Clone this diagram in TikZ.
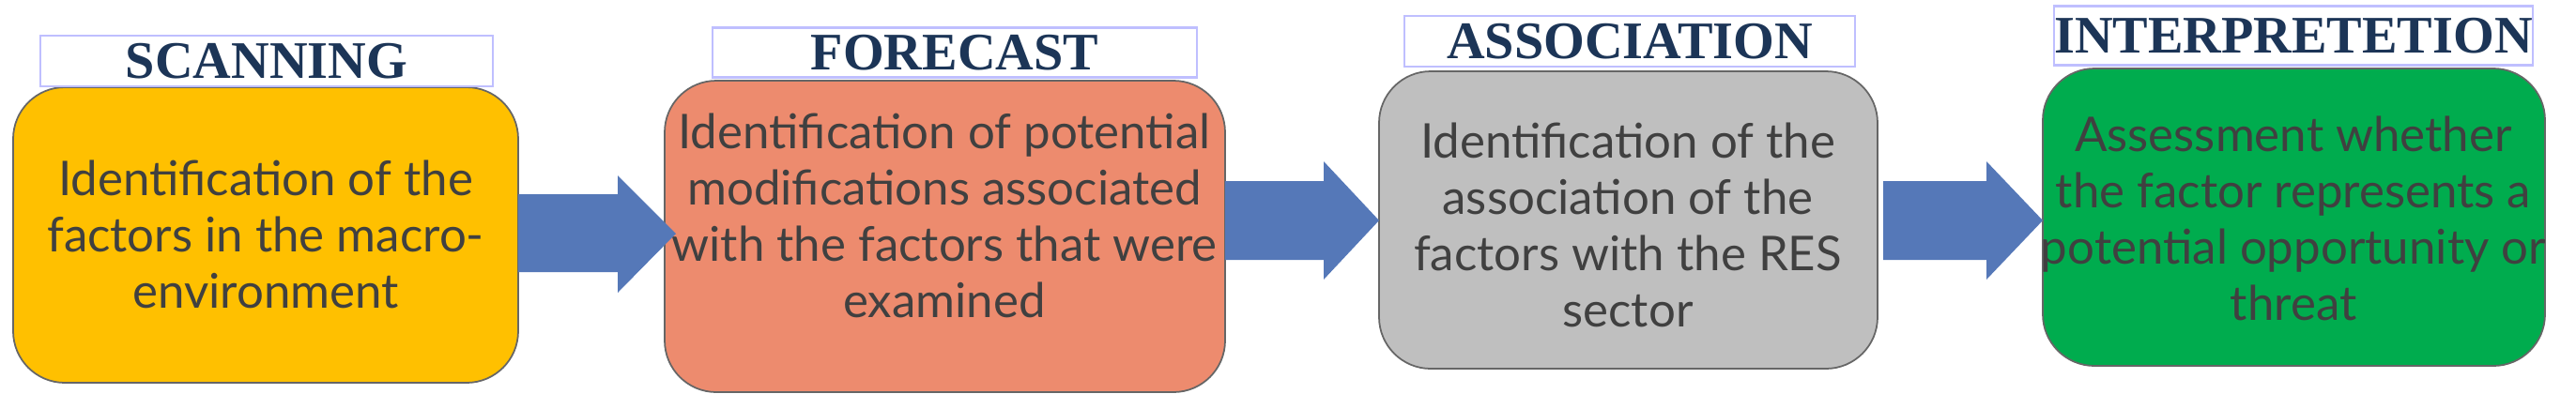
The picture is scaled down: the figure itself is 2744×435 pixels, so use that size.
\documentclass[tikz,border=0pt]{standalone}
\usepackage{fontspec}
\setmainfont{Lato}
\newfontfamily\ttl{Liberation Serif}
\usetikzlibrary{shapes.arrows}
\definecolor{cy}{HTML}{FFC000}
\definecolor{co}{HTML}{ED8B6E}
\definecolor{cg}{HTML}{BFBFBF}
\definecolor{cgr}{HTML}{00AC4E}
\definecolor{ca}{HTML}{5578B8}
\definecolor{ct}{HTML}{1C3557}
\definecolor{txt}{HTML}{404040}
\tikzset{
 box/.style={draw=black!60,line width=0.5pt,rounded corners=0.55cm,text=txt,align=center,font=\fontsize{14.5}{17}\selectfont},
 lbl/.style={draw=blue!25,line width=0.6pt,fill=white,text=ct,font=\ttl\bfseries\fontsize{16}{18}\selectfont},
 arr/.style={fill=ca,draw=none}
}
\begin{document}
\begin{tikzpicture}[x=0.01cm,y=-0.01cm]
\useasboundingbox (0,0) rectangle (2744,435);
% boxes
\draw[box,fill=cy] (14,93) rectangle (552,408);
\node[text=txt,align=center,font=\fontsize{14.5}{17}\selectfont] (b1) at (283,250) {Identification of the\\factors in the macro-\\environment};
\draw[box,fill=co] (708,86) rectangle (1305,418);
\node[text=txt,align=center,font=\fontsize{14.5}{17}\selectfont] (b2) at (1006,230) {Identification of potential\\modifications associated\\with the factors that were\\examined};
\draw[box,fill=cg] (1469,76) rectangle (2000,393);
\node[text=txt,align=center,font=\fontsize{14.5}{17}\selectfont] (b3) at (1734,240) {Identification of the\\association of the\\factors with the RES\\sector};
\draw[box,fill=cgr] (2176,73) rectangle (2711,390);
\node[text=txt,align=center,font=\fontsize{14.5}{17}\selectfont] (b4) at (2443,233) {Assessment whether\\the factor represents a\\potential opportunity or\\threat};
% labels
\node[lbl,minimum width=482\pgflinewidth,inner sep=0pt,minimum height=0.54cm,minimum width=4.82cm] (l1) at (284,65) {SCANNING};
\node[lbl,inner sep=0pt,minimum height=0.53cm,minimum width=5.15cm] (l2) at (1017,56) {FORECAST};
\node[lbl,inner sep=0pt,minimum height=0.54cm,minimum width=4.80cm] (l3) at (1736,44) {ASSOCIATION};
\node[lbl,inner sep=0pt,minimum height=0.63cm,minimum width=5.02cm] (l4) at (2443,38) {INTERPRETETION};
% arrows
\fill[arr] (552,207) -- (658,207) -- (658,187) -- (720,249) -- (658,312) -- (658,290) -- (552,290) -- cycle;
\fill[arr] (1305,193) -- (1410,193) -- (1410,172) -- (1469,235) -- (1410,298) -- (1410,277) -- (1305,277) -- cycle;
\fill[arr] (2006,193) -- (2116,193) -- (2116,172) -- (2176,235) -- (2116,298) -- (2116,277) -- (2006,277) -- cycle;
\end{tikzpicture}
\end{document}
